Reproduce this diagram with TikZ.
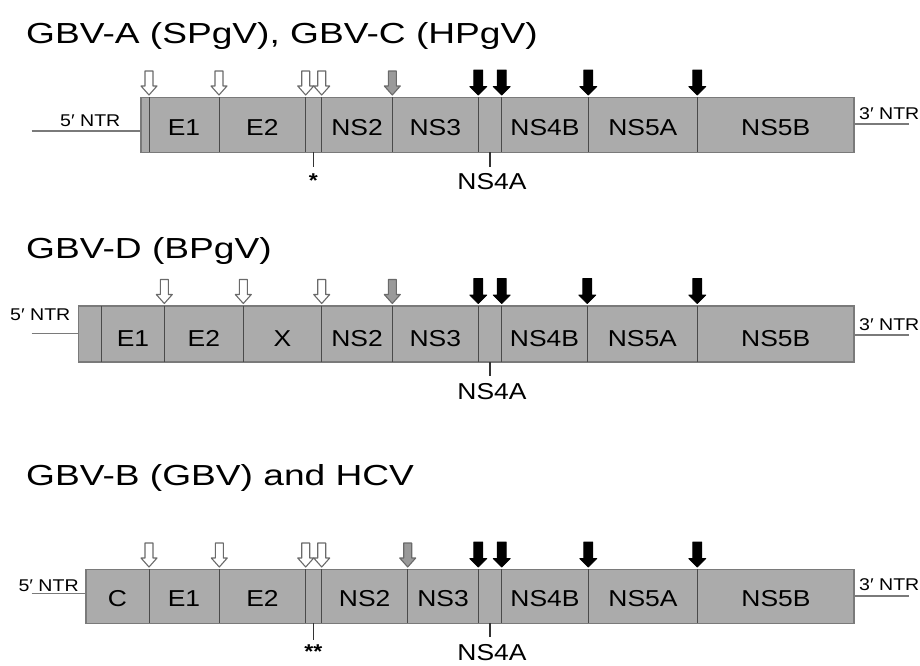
\documentclass[tikz,border=0pt]{standalone}
\usepackage{fontspec}
\setmainfont[FakeStretch=1.15]{Liberation Sans}
\newfontfamily\titlefont[FakeStretch=1.28]{Liberation Sans}
\definecolor{boxfill}{HTML}{ABABAB}
\definecolor{boxedge}{HTML}{7A7A7A}
\definecolor{divline}{HTML}{4A4A4A}
\definecolor{arrgray}{HTML}{9A9A9A}
\definecolor{arredge}{HTML}{6A6A6A}
\definecolor{ntrline}{HTML}{7A7A7A}
\tikzset{
  genome/.style={fill=boxfill, draw=boxedge, line width=1.2pt},
  divider/.style={draw=divline, line width=1pt},
  ntr/.style={draw=ntrline, line width=1.3pt},
  ticker/.style={draw=black!80, line width=1.2pt},
  seglabel/.style={anchor=base, inner sep=0pt, font=\fontsize{23}{25}\selectfont},
  ntrlabel/.style={anchor=base west, inner sep=0pt, font=\fontsize{17}{19}\selectfont},
  ttl/.style={anchor=base west, inner sep=0pt, font=\titlefont\fontsize{29}{32}\selectfont},
  starlabel/.style={anchor=base, inner sep=0pt, font=\bfseries\fontsize{20}{22}\selectfont},
  openarr/.pic={\draw[arredge, fill=white, line width=1.1pt, line join=round]
      (0,0) -- (-8,-9) -- (-4,-9) -- (-4,-24) -- (4,-24) -- (4,-9) -- (8,-9) -- cycle;},
  grayarr/.pic={\draw[arredge, fill=arrgray, line width=1.1pt, line join=round]
      (0,0) -- (-8,-9) -- (-4,-9) -- (-4,-24) -- (4,-24) -- (4,-9) -- (8,-9) -- cycle;},
  blackarr/.pic={\draw[black, fill=black, line width=0.8pt, line join=round]
      (0,0) -- (-8.5,-8.5) -- (-4.5,-8.5) -- (-4.5,-25) -- (4.5,-25) -- (4.5,-8.5) -- (8.5,-8.5) -- cycle;}
}
\begin{document}
\begin{tikzpicture}[x=1pt, y=-1pt]
\useasboundingbox[fill=white] (0,0) rectangle (920,665);

% ---------------- Row 1 ----------------
\node[ttl] (t1) at (26,43) {GBV-A (SPgV), GBV-C (HPgV)};
\coordinate (r1l) at (31.7,131);
\coordinate (r1w) at (141,131);
\coordinate (r1e) at (854,124);
\coordinate (r1r) at (909,124);
\draw[ntr] (r1l) -- (r1w);
\draw[ntr] (r1e) -- (r1r);
\node[ntrlabel] (r1n5) at (60,126.7) {5′ NTR};
\node[ntrlabel] (r1n3) at (859,119.3) {3′ NTR};
\draw[genome] (141,97.3) rectangle (854,152.3);
\foreach \x in {149,219,305.7,321.7,392.3,478.3,501.7,588.3,697.3}
  \draw[divider] (\x,97.3) -- (\x,152.3);
\foreach \x in {149,219,305.7,321.7} \pic at (\x,95) {openarr};
\pic at (392.3,95) {grayarr};
\foreach \x in {478.3,501.7,588.3,697.3} \pic at (\x,95) {blackarr};
\node[seglabel] (r1a) at (184,135) {E1};
\node[seglabel] (r1b) at (262.3,135) {E2};
\node[seglabel] (r1c) at (357,135) {NS2};
\node[seglabel] (r1d) at (435.3,135) {NS3};
\node[seglabel] (r1f) at (545,135) {NS4B};
\node[seglabel] (r1g) at (642.8,135) {NS5A};
\node[seglabel] (r1h) at (775.7,135) {NS5B};
\coordinate (r1s0) at (313.3,152.3);
\coordinate (r1s1) at (313.3,166.7);
\draw[ticker] (r1s0) -- (r1s1);
\node[starlabel] (r1star) at (313.3,187.5) {*};
\coordinate (r1k0) at (490,152.3);
\coordinate (r1k1) at (490,167.3);
\draw[ticker] (r1k0) -- (r1k1);
\node[seglabel] (r1ns4a) at (492,189.3) {NS4A};

% ---------------- Row 2 ----------------
\node[ttl] (t2) at (26,258) {GBV-D (BPgV)};
\coordinate (r2l) at (31.7,333.3);
\coordinate (r2w) at (78.3,333.3);
\coordinate (r2e) at (854,335);
\coordinate (r2r) at (909,335);
\draw[ntr] (r2l) -- (r2w);
\draw[ntr] (r2e) -- (r2r);
\node[ntrlabel] (r2n5) at (10,320) {5′ NTR};
\node[ntrlabel] (r2n3) at (859,330.7) {3′ NTR};
\draw[genome] (78.3,306) rectangle (854,362);
\foreach \x in {101.7,164.3,243.3,321.7,392.3,478.3,501.7,587.3,697.3}
  \draw[divider] (\x,306) -- (\x,362);
\foreach \x in {164.3,243.3,321.7} \pic at (\x,303.5) {openarr};
\pic at (392.3,303.5) {grayarr};
\foreach \x in {478.3,501.7,587.3,697.3} \pic at (\x,303.5) {blackarr};
\node[seglabel] (r2a) at (133,346) {E1};
\node[seglabel] (r2b) at (203.8,346) {E2};
\node[seglabel] (r2x) at (282.5,346) {X};
\node[seglabel] (r2c) at (357,346) {NS2};
\node[seglabel] (r2d) at (435.3,346) {NS3};
\node[seglabel] (r2f) at (544.5,346) {NS4B};
\node[seglabel] (r2g) at (642.3,346) {NS5A};
\node[seglabel] (r2h) at (775.7,346) {NS5B};
\coordinate (r2k0) at (490,362);
\coordinate (r2k1) at (490,376);
\draw[ticker] (r2k0) -- (r2k1);
\node[seglabel] (r2ns4a) at (492,399) {NS4A};

% ---------------- Row 3 ----------------
\node[ttl] (t3) at (26,485) {GBV-B (GBV) and HCV};
\coordinate (r3l) at (31.7,593.3);
\coordinate (r3w) at (86,593.3);
\coordinate (r3e) at (854,596);
\coordinate (r3r) at (909,596);
\draw[ntr] (r3l) -- (r3w);
\draw[ntr] (r3e) -- (r3r);
\node[ntrlabel] (r3n5) at (18.3,591.7) {5′ NTR};
\node[ntrlabel] (r3n3) at (859,590.7) {3′ NTR};
\draw[genome] (86,569.3) rectangle (854,623.3);
\foreach \x in {149,219.3,305.7,321.7,407.7,478.3,501.7,588.3,697.3}
  \draw[divider] (\x,569.3) -- (\x,623.3);
\foreach \x in {149,219.3,305.7,321.7} \pic at (\x,567) {openarr};
\pic at (407.7,567) {grayarr};
\foreach \x in {478.3,501.7,588.3,697.3} \pic at (\x,567) {blackarr};
\node[seglabel] (r3z) at (117.5,606.7) {C};
\node[seglabel] (r3a) at (184,606.7) {E1};
\node[seglabel] (r3b) at (262.5,606.7) {E2};
\node[seglabel] (r3c) at (364.7,606.7) {NS2};
\node[seglabel] (r3d) at (443,606.7) {NS3};
\node[seglabel] (r3f) at (545,606.7) {NS4B};
\node[seglabel] (r3g) at (643,606.7) {NS5A};
\node[seglabel] (r3h) at (776,606.7) {NS5B};
\coordinate (r3s0) at (313.3,623.3);
\coordinate (r3s1) at (313.3,640);
\draw[ticker] (r3s0) -- (r3s1);
\node[starlabel] (r3star) at (313.3,658.5) {**};
\coordinate (r3k0) at (490,623.3);
\coordinate (r3k1) at (490,636.7);
\draw[ticker] (r3k0) -- (r3k1);
\node[seglabel] (r3ns4a) at (492,660) {NS4A};
\end{tikzpicture}
\end{document}
